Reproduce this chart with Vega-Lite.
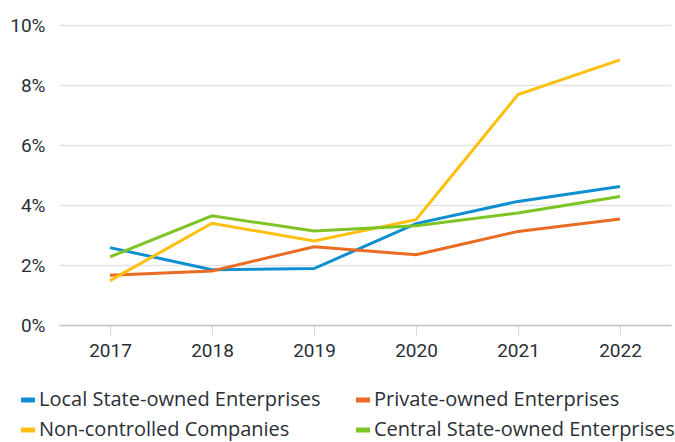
{
  "$schema": "https://vega.github.io/schema/vega-lite/v6.json",
  "width": 612,
  "height": 300,
  "autosize": "none",
  "padding": {"left": 59, "top": 25, "right": 4, "bottom": 117},
  "background": "white",
  "config": {"view": {"stroke": null}, "font": "Roboto"},
  "data": {
    "values": [
      {"series": "Local State-owned Enterprises", "year": "2017", "value": 0.0258},
      {"series": "Local State-owned Enterprises", "year": "2018", "value": 0.0184},
      {"series": "Local State-owned Enterprises", "year": "2019", "value": 0.0188},
      {"series": "Local State-owned Enterprises", "year": "2020", "value": 0.0338},
      {"series": "Local State-owned Enterprises", "year": "2021", "value": 0.0412},
      {"series": "Local State-owned Enterprises", "year": "2022", "value": 0.0462},
      {"series": "Private-owned Enterprises", "year": "2017", "value": 0.0166},
      {"series": "Private-owned Enterprises", "year": "2018", "value": 0.0180},
      {"series": "Private-owned Enterprises", "year": "2019", "value": 0.0261},
      {"series": "Private-owned Enterprises", "year": "2020", "value": 0.0234},
      {"series": "Private-owned Enterprises", "year": "2021", "value": 0.0312},
      {"series": "Private-owned Enterprises", "year": "2022", "value": 0.0353},
      {"series": "Non-controlled Companies", "year": "2017", "value": 0.0148},
      {"series": "Non-controlled Companies", "year": "2018", "value": 0.0339},
      {"series": "Non-controlled Companies", "year": "2019", "value": 0.0280},
      {"series": "Non-controlled Companies", "year": "2020", "value": 0.0351},
      {"series": "Non-controlled Companies", "year": "2021", "value": 0.0768},
      {"series": "Non-controlled Companies", "year": "2022", "value": 0.0884},
      {"series": "Central State-owned Enterprises", "year": "2017", "value": 0.0227},
      {"series": "Central State-owned Enterprises", "year": "2018", "value": 0.0364},
      {"series": "Central State-owned Enterprises", "year": "2019", "value": 0.0313},
      {"series": "Central State-owned Enterprises", "year": "2020", "value": 0.0331},
      {"series": "Central State-owned Enterprises", "year": "2021", "value": 0.0373},
      {"series": "Central State-owned Enterprises", "year": "2022", "value": 0.0428}
    ]
  },
  "mark": {"type": "line", "strokeWidth": 3},
  "encoding": {
    "x": {
      "field": "year",
      "type": "ordinal",
      "scale": {"padding": 0.5},
      "axis": {
        "title": null,
        "labelAngle": 0,
        "labelFontSize": 19,
        "labelColor": "#2b2f36",
        "domainColor": "#c0c6cf",
        "domainWidth": 1.5,
        "tickColor": "#d5d9de",
        "tickSize": 10,
        "tickWidth": 1,
        "labelPadding": 6,
        "grid": false
      }
    },
    "y": {
      "field": "value",
      "type": "quantitative",
      "scale": {"domain": [0, 0.1], "nice": false},
      "axis": {
        "title": null,
        "format": ".0%",
        "values": [0, 0.02, 0.04, 0.06, 0.08, 0.1],
        "domain": false,
        "ticks": false,
        "labelPadding": 14,
        "labelFontSize": 19,
        "labelColor": "#2b2f36",
        "gridColor": "#e3e3e3",
        "gridWidth": 1.5
      }
    },
    "color": {
      "field": "series",
      "type": "nominal",
      "sort": null,
      "scale": {
        "domain": ["Local State-owned Enterprises", "Private-owned Enterprises", "Non-controlled Companies", "Central State-owned Enterprises"],
        "range": ["#0e8fd1", "#ea6b22", "#ffbf0f", "#7dc424"]
      },
      "legend": {
        "title": null,
        "orient": "none",
        "legendX": -41,
        "legendY": 365,
        "direction": "horizontal",
        "columns": 2,
        "columnPadding": 25,
        "rowPadding": 10,
        "symbolType": "stroke",
        "symbolStrokeWidth": 5,
        "symbolSize": 196,
        "labelFontSize": 20,
        "labelFont": "Open Sans",
        "labelColor": "#2b2f36",
        "labelLimit": 400,
        "labelOffset": 1
      }
    }
  }
}
